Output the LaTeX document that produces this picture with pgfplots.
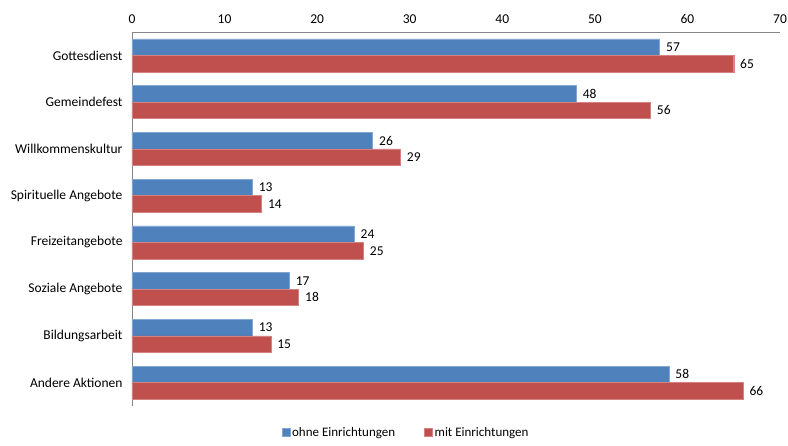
\documentclass[border=0pt]{standalone}
\usepackage{pgfplots}
\pgfplotsset{compat=1.18}
\usepackage{fontspec}
\setmainfont{Carlito}
\definecolor{cblue}{HTML}{4F81BD}
\definecolor{cred}{HTML}{C0504D}
\definecolor{axgray}{HTML}{868686}
\begin{document}
\begin{tikzpicture}[x=1pt,y=1pt]
\useasboundingbox (0,0) rectangle (788,445);
\begin{axis}[
  at={(132pt,39pt)}, anchor=south west,
  scale only axis,
  width=648pt, height=374pt,
  xbar, bar width=16.5pt,
  xmin=0, xmax=70,
  ymin=-0.5, ymax=7.5,
  y dir=reverse,
  axis x line*=top, axis y line*=left,
  axis line style={axgray, line width=0.8pt},
  xtick={0,10,...,70},
  ytick={0,...,7},
  yticklabels={Gottesdienst,Gemeindefest,Willkommenskultur,Spirituelle Angebote,Freizeitangebote,Soziale Angebote,Bildungsarbeit,Andere Aktionen},
  major tick length=0pt,
  tick label style={font=\fontsize{13.5}{15}\selectfont, text=black},
  /pgf/number format/assume math mode=true,
  xticklabel style={yshift=5pt},
  yticklabel style={xshift=-6pt},
  nodes near coords,
  nodes near coords style={font=\fontsize{13.5}{15}\selectfont, text=black, xshift=3pt},
  legend style={at={(0.423,-0.045)}, anchor=north, draw=none, fill=none,
    legend columns=2, font=\fontsize{13}{15}\selectfont,
    /tikz/every even column/.append style={column sep=27pt}},
  legend image code/.code={\fill[#1] (0pt,-3.5pt) rectangle (8pt,4.5pt);},
  clip=false,
]
\addplot[fill=cblue, draw=cblue!70!white, bar shift=8.3pt] coordinates {
  (57,0) (48,1) (26,2) (13,3) (24,4) (17,5) (13,6) (58,7)
};
\addlegendentry{ohne Einrichtungen}
\addplot[fill=cred, draw=cred!70!white, bar shift=-8.3pt] coordinates {
  (65,0) (56,1) (29,2) (14,3) (25,4) (18,5) (15,6) (66,7)
};
\addlegendentry{mit Einrichtungen}
\end{axis}
\end{tikzpicture}
\end{document}
